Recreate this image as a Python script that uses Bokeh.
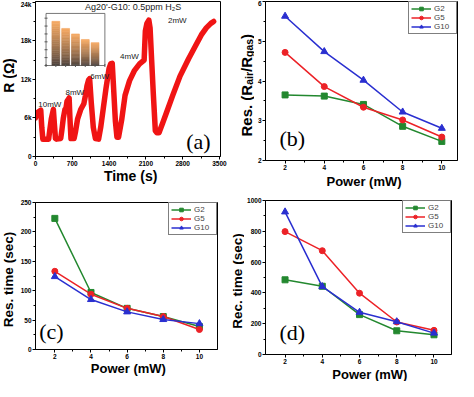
import numpy as np
from bokeh.plotting import figure
from bokeh.layouts import column, row
from bokeh.models import Range1d, FixedTicker, Label, Legend, LegendItem
from bokeh.embed import file_html
from bokeh.resources import INLINE
from bokeh.core.properties import value

# ---------------- data ----------------
# (a) resistance transient of Ag20'-G10 at 0.5 ppm H2S
time_s = [0, 30, 100, 120, 140, 250, 270, 300, 340, 360, 380, 400, 480, 500, 530, 560, 580, 600, 640, 655,
          675, 735, 760, 800, 860, 920, 950, 980, 1010, 1030, 1060, 1100, 1140, 1200, 1240, 1290, 1340, 1400,
          1430, 1460, 1490, 1520, 1550, 1580, 1640, 1704, 1790, 1885, 1980, 2067, 2090, 2120, 2157, 2180, 2210,
          2240, 2280, 2310, 2350, 2420, 2500, 2611, 2750, 2913, 3050, 3155, 3250, 3336, 3390]
resistance = [6000, 6800, 7200, 4500, 2700, 2700, 4000, 5800, 7300, 5000, 2800, 2700, 2800, 4000, 6000, 7300,
              7500, 8600, 9100, 6000, 2800, 2800, 3800, 5800, 7300, 8200, 9500, 11000, 11900, 12100, 8500, 4500,
              2800, 2700, 4500, 7500, 10500, 13700, 14400, 14500, 10000, 5500, 3000, 3000, 5700, 9500, 11800,
              13400, 14400, 15000, 19500, 20700, 21200, 20000, 15000, 10000, 4000, 3700, 3700, 5200, 7000, 9500,
              12500, 15200, 17300, 18900, 20000, 20700, 21000]
power_tags = ["10mW", "8mW", "6mW", "4mW", "2mW"]
power_tag_t = [273, 747, 1221, 1786, 2698]
power_tag_r = [8100, 9900, 12500, 15500, 21100]
a_xticks = [0, 700, 1400, 2100, 2800, 3500]
a_yticks = [0, 6000, 12000, 18000, 24000]
a_ytick_labels = ["0", "6k", "12k", "18k", "24k"]

# inset bar chart (response vs power)
inset_power = [2, 4, 6, 8, 10]
inset_response = [5.6, 4.7, 4.0, 3.3, 2.9]

# (b)-(d)
power = [2, 4, 6, 8, 10]
res_G2 = [3.65, 3.62, 3.41, 2.86, 2.48]
res_G5 = [4.72, 3.86, 3.34, 3.02, 2.59]
res_G10 = [5.63, 4.74, 4.02, 3.22, 2.81]
rt_G2 = [223, 97, 70, 56, 39]
rt_G5 = [133, 94, 70, 56, 34]
rt_G10 = [124, 85, 64, 51, 44]
rec_G2 = [485, 443, 259, 154, 128]
rec_G5 = [798, 674, 398, 211, 157]
rec_G10 = [926, 441, 274, 213, 139]
series_names = ["G2", "G5", "G10"]
series_colors = ["#23882f", "#ec2227", "#2a2fd0"]
series_markers = ["square", "circle", "triangle"]

FONT = "Liberation Sans"


def make_fig(w, h, xr, yr, bl, br, bt, bb):
    p = figure(width=w, height=h, x_range=Range1d(*xr), y_range=Range1d(*yr),
               output_backend="svg", toolbar_location=None,
               min_border_left=bl, min_border_right=br, min_border_top=bt, min_border_bottom=bb)
    p.grid.visible = False
    p.outline_line_color = "black"
    p.outline_line_width = 1
    p.outline_line_alpha = 1
    for ax in (p.xaxis[0], p.yaxis[0]):
        ax.major_tick_in = 0
        ax.major_tick_out = 3
        ax.minor_tick_in = 0
        ax.minor_tick_out = 2
        ax.axis_line_color = "black"
        ax.major_tick_line_color = "black"
        ax.minor_tick_line_color = "black"
        ax.major_label_text_font = FONT
        ax.major_label_text_font_style = "bold"
        ax.major_label_text_font_size = "6.5px"
        ax.major_label_text_color = "black"
        ax.major_label_standoff = 1
    return p


def label_fig(w, h):
    f = figure(width=w, height=h, x_range=Range1d(0, w), y_range=Range1d(0, h),
               x_axis_type=None, y_axis_type=None, output_backend="svg", toolbar_location=None,
               min_border_left=0, min_border_right=0, min_border_top=0, min_border_bottom=0)
    f.outline_line_color = None
    return f


def vtext(f, text, x, y, size, align="center", baseline="middle"):
    f.text(x=[x], y=[y], text=[text], angle=np.pi / 2, text_font=value(FONT), text_font_style="bold",
           text_font_size=size, text_align=align, text_baseline=baseline, text_color="black")


def htext(f, text, x, y, size):
    f.text(x=[x], y=[y], text=[text], text_font=value(FONT), text_font_style="bold",
           text_font_size=size, text_align="center", text_baseline="middle", text_color="black")


def ticks(p, xt, xm, yt, ym):
    p.xaxis[0].ticker = FixedTicker(ticks=xt, minor_ticks=xm)
    p.yaxis[0].ticker = FixedTicker(ticks=yt, minor_ticks=ym)


def panel_tag(p, text, x, y):
    p.add_layout(Label(x=x, y=y, text=text, text_font="Liberation Serif", text_font_size="22px",
                       text_align="center", text_baseline="middle", text_color="black"))


def series_plot(p, ys_list):
    items = []
    for name, ys, c, m in zip(series_names, ys_list, series_colors, series_markers):
        r1 = p.line(power, ys, line_color=c, line_width=1.5)
        r2 = p.scatter(power, ys, marker=m, size=6 if m != "triangle" else 7, fill_color=c, line_color=c)
        items.append(LegendItem(label=name, renderers=[r1, r2]))
    leg = Legend(items=items, location="top_right", margin=0, padding=2, spacing=0,
                 label_text_font=FONT, label_text_font_size="8px", label_height=9, glyph_height=9,
                 glyph_width=20, label_standoff=3, border_line_color="black", border_line_width=0.8)
    p.add_layout(leg)


# ---------------- (a) ----------------
la = label_fig(17, 189)
vtext(la, "R (\u03a9)", 8.7, 114, "14px")
pa = make_fig(212, 168, (0, 3520), (0, 24100), 15, 9, 1, 12)
ticks(pa, a_xticks, list(range(350, 3500, 700)), a_yticks, list(range(3000, 24000, 6000)))
pa.yaxis[0].major_label_overrides = {t: s for t, s in zip(a_yticks, a_ytick_labels)}
pa.line(time_s, resistance, line_color="#f01414", line_width=5.5, line_join="round", line_cap="round")
pa.text(x=power_tag_t, y=power_tag_r, text=power_tags, text_font=value(FONT), text_font_size="8px",
        text_align="center", text_baseline="middle", text_color="#222222")
pa.add_layout(Label(x=1859, y=23250, text="Ag20'-G10: 0.5ppm H\u2082S", text_font=FONT, text_font_size="9px",
                    text_align="center", text_baseline="middle", text_color="#222222"))
panel_tag(pa, "(a)", 3099, 2400)
xa = label_fig(212, 21)
htext(xa, "Time (s)", 109, 13.5, "14px")

# inset drawn on its own ranges that place it in the upper-left of the frame
in_x0, in_x1, in_y0, in_y1 = 0.0, 12.0, 0.0, 6.6
fx0, fx1, fy0, fy1 = 0.057, 0.375, 0.587, 0.923
sx = (in_x1 - in_x0) / (fx1 - fx0)
sy = (in_y1 - in_y0) / (fy1 - fy0)
pa.extra_x_ranges = {"ix": Range1d(in_x0 - fx0 * sx, in_x1 + (1 - fx1) * sx)}
pa.extra_y_ranges = {"iy": Range1d(in_y0 - fy0 * sy, in_y1 + (1 - fy1) * sy)}
pa.quad(left=[in_x0], right=[in_x1], bottom=[in_y0], top=[in_y1], fill_color="white",
        line_color="#555555", line_width=0.8, x_range_name="ix", y_range_name="iy")
nsl = 24
dark = np.array([72, 64, 62])
orange = np.array([247, 170, 100])
for k in range(nsl):
    f0, f1 = k / nsl, (k + 1) / nsl
    col = dark + (orange - dark) * ((k + 0.5) / nsl) ** 0.8
    colhex = "#%02x%02x%02x" % tuple(int(v) for v in col)
    pa.vbar(x=inset_power, width=1.6, bottom=[v * f0 for v in inset_response],
            top=[v * f1 for v in inset_response], fill_color=colhex, line_color=colhex, line_width=0.6,
            x_range_name="ix", y_range_name="iy")
pa.scatter(x=[0, 2, 4, 6, 8, 10, 12], y=[0] * 7, marker="dash", angle=np.pi / 2, size=3,
           line_color="#555555", x_range_name="ix", y_range_name="iy")
pa.scatter(x=[0] * 7, y=[0, 1, 2, 3, 4, 5, 6], marker="dash", size=3,
           line_color="#555555", x_range_name="ix", y_range_name="iy")

# ---------------- (b) ----------------
lb = label_fig(25, 189)
pieces = [("Res. (R", 15, 3.445, 0), ("air", 10.5, 1.223, 3), ("/R", 15, 1.0, 0), ("gas", 10.5, 1.723, 3),
          (")", 15, 0.333, 0)]
ypos = 53
for txt, fs, em, shift in pieces:
    vtext(lb, txt, 16.5 + shift, ypos, "%gpx" % fs, align="left", baseline="alphabetic")
    ypos += em * fs
pb = make_fig(204, 172, (1.0, 10.8), (2, 6), 10, 1, 1, 12)
ticks(pb, [2, 4, 6, 8, 10], [3, 5, 7, 9], [2, 3, 4, 5, 6], [2.5, 3.5, 4.5, 5.5])
series_plot(pb, [res_G2, res_G5, res_G10])
panel_tag(pb, "(b)", 2.37, 2.55)
xb = label_fig(204, 17)
htext(xb, "Power (mW)", 104.7, 8.5, "13px")

# ---------------- (c) ----------------
lc = label_fig(17, 192)
vtext(lc, "Res. time (sec)", 8.3, 102, "13.5px")
pc = make_fig(212, 172, (0.93, 11.0), (0, 250), 15, 12, 13, 12)
ticks(pc, [2, 4, 6, 8, 10], [3, 5, 7, 9], [0, 50, 100, 150, 200, 250], [25, 75, 125, 175, 225])
series_plot(pc, [rt_G2, rt_G5, rt_G10])
panel_tag(pc, "(c)", 1.81, 31)
xc = label_fig(212, 20)
htext(xc, "Power (mW)", 108.2, 13, "13px")

# ---------------- (d) ----------------
ld = label_fig(15, 192)
vtext(ld, "Rec. time (sec)", 8.3, 100.5, "13.5px")
pd_ = make_fig(214, 177, (0.95, 10.94), (0, 1000), 20, 7, 11, 12)
ticks(pd_, [2, 4, 6, 8, 10], [3, 5, 7, 9], [0, 200, 400, 600, 800, 1000], [100, 300, 500, 700, 900])
series_plot(pd_, [rec_G2, rec_G5, rec_G10])
panel_tag(pd_, "(d)", 2.39, 146)
xd = label_fig(214, 15)
htext(xd, "Power (mW)", 120.1, 7, "13px")

layout = column(row(la, column(pa, xa), lb, column(pb, xb)),
                row(lc, column(pc, xc), ld, column(pd_, xd)))
open("out.html", "w").write(file_html(layout, INLINE))
